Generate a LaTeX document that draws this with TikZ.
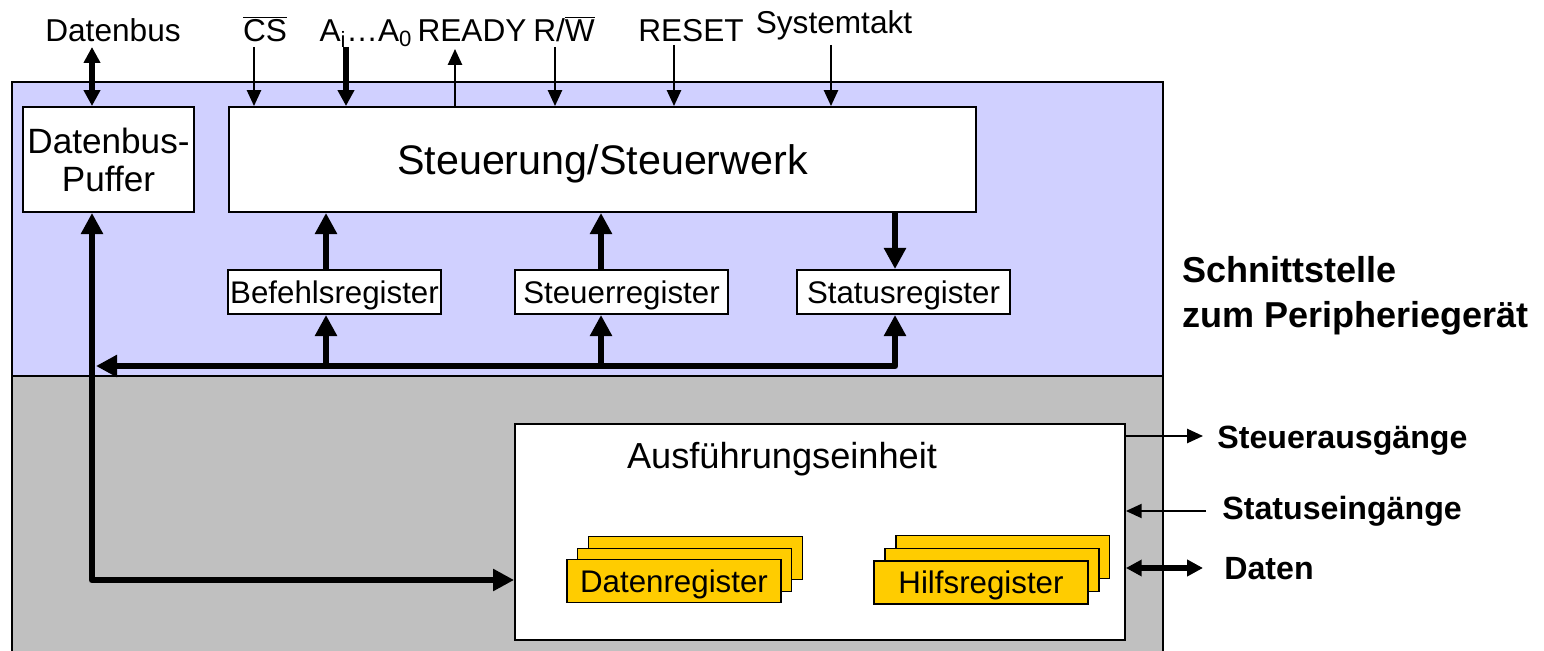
\documentclass[tikz,border=0pt]{standalone}
\usepackage{fontspec}
\setmainfont{Liberation Sans}
\usetikzlibrary{arrows.meta}
\definecolor{steuerblau}{RGB}{208,208,255}
\definecolor{ausfgrau}{RGB}{192,192,192}
\definecolor{reggelb}{RGB}{255,204,0}
\tikzset{
  box/.style={draw, fill=white, line width=1.1pt, inner sep=0pt},
  regbox/.style={box, minimum width=4.26cm, minimum height=0.88cm, text height=12.8pt, text depth=0pt, font=\fontsize{17.8}{20}\selectfont},
  stackbox/.style={box, fill=reggelb, minimum width=4.28cm, minimum height=0.86cm, text height=12.8pt, text depth=0pt, font=\fontsize{17.8}{20}\selectfont},
  sig/.style={line width=1.1pt, -{Triangle[length=9pt,width=8pt]}},
  sigboth/.style={line width=3pt, {Triangle[length=9pt,width=9pt]}-{Triangle[length=9pt,width=9pt]}},
  sigdown/.style={line width=3pt, -{Triangle[length=9pt,width=9pt]}},
  bus/.style={line width=3.8pt, line join=round, -{Triangle[length=12pt,width=12pt]}},
  busboth/.style={line width=3.8pt, line join=round, {Triangle[length=12pt,width=12pt]}-{Triangle[length=12pt,width=12pt]}},
  lbl/.style={font=\fontsize{18}{20}\selectfont, inner sep=0pt, anchor=base},
  boldlbl/.style={font=\fontsize{18.3}{20}\selectfont\bfseries, inner sep=0pt, anchor=base west},
}
\begin{document}
\begin{tikzpicture}[x=0.02cm, y=-0.02cm]
\useasboundingbox (0,0) rectangle (1544,651);
% Hintergrund
\draw[line width=1.1pt, fill=ausfgrau] (12,376) rectangle (1163,665);
\draw[line width=1.1pt, fill=steuerblau] (12,82) rectangle (1163,376);

% Steuerteil
\node[box, minimum width=3.42cm, minimum height=2.1cm, align=center, font=\fontsize{20}{21.6}\selectfont] (puffer) at (108.5,159.5) {Datenbus-\\Puffer};
\node[box, minimum width=14.94cm, minimum height=2.1cm, text height=16.9pt, text depth=0pt, font=\fontsize{23.5}{26}\selectfont] (steuer) at (602.5,159.5) {Steuerung/Steuerwerk};
\node[regbox] (befehl) at (334.5,292) {Befehlsregister};
\node[regbox] (steuerreg) at (621.5,292) {Steuerregister};
\node[regbox] (statusreg) at (903.5,292) {Statusregister};

% Ausfuehrungseinheit
\node[box, minimum width=12.2cm, minimum height=4.32cm] (ausf) at (820,532) {};
\node[font=\fontsize{20.6}{22}\selectfont, inner sep=0pt, anchor=base] (ausflbl) at (782,468) {Ausführungseinheit};
\node[stackbox] (daten3) at (695.5,558) {};
\node[stackbox] (daten2) at (684.5,570) {};
\node[stackbox] (daten1) at (674,581) {Datenregister};
\node[stackbox] (hilf3) at (1002.5,557) {};
\node[stackbox] (hilf2) at (992,570) {};
\node[stackbox] (hilf1) at (981,582.5) {Hilfsregister};

% Signale oben
\node[lbl] (ldatenbus) at (113,42) {Datenbus};
\node[lbl] (lcs) at (265,42) {$\overline{\mbox{CS}}$};
\node[lbl] (laddr) at (366,42) {A\textsubscript{i}…A\textsubscript{0}};
\node[lbl] (lready) at (472,42) {READY};
\node[lbl] (lrw) at (564,42) {R/$\overline{\mbox{W}}$};
\node[lbl] (lreset) at (691,42) {RESET};
\node[lbl] (ltakt) at (834,34) {Systemtakt};

\coordinate (tdb) at (92,47);
\coordinate (tcs) at (254,47);
\coordinate (taddr) at (346,47);
\coordinate (tready) at (455,49);
\coordinate (trw) at (555,47);
\coordinate (treset) at (674,45);
\coordinate (ttakt) at (831,45);
\draw[sigboth] (tdb) -- (tdb |- puffer.north);
\draw[sig] (tcs) -- (tcs |- steuer.north);
\draw[sigdown] (taddr) -- (taddr |- steuer.north);
\draw[sig] (tready |- steuer.north) -- (tready);
\draw[sig] (trw) -- (trw |- steuer.north);
\draw[sig] (treset) -- (treset |- steuer.north);
\draw[sig] (ttakt) -- (ttakt |- steuer.north);

% interne Busse
\coordinate (xb) at (326,0);
\coordinate (xs) at (601,0);
\coordinate (xt) at (895,0);
\coordinate (bj) at (96,366);
\coordinate (yl) at (0,580);
\draw[bus] (xb |- befehl.north) -- (xb |- steuer.south);
\draw[bus] (xs |- steuerreg.north) -- (xs |- steuer.south);
\draw[bus] (xt |- steuer.south) -- (xt |- statusreg.north);
\draw[bus] (xb |- bj) -- (xb |- befehl.south);
\draw[bus] (xs |- bj) -- (xs |- steuerreg.south);
\draw[busboth] (bj) -| (xt |- statusreg.south);
\draw[busboth] (92,0 |- puffer.south) |- (yl -| ausf.west);

% Schnittstelle
\node[font=\fontsize{20.5}{24}\selectfont\bfseries, inner sep=0pt, anchor=base west] (lschnitt) at (1182,283) {Schnittstelle};
\node[font=\fontsize{20.5}{24}\selectfont\bfseries, inner sep=0pt, anchor=base west] (lperi) at (1182,328) {zum Peripheriegerät};
\coordinate (osa) at (1203,436);
\coordinate (ose) at (1206,511);
\coordinate (oda) at (1203,568);
\draw[sig] (osa -| ausf.east) -- (osa);
\draw[sig] (ose) -- (ose -| ausf.east);
\draw[sigboth] (oda -| ausf.east) -- (oda);
\node[boldlbl] (lsa) at (1217,448) {Steuerausgänge};
\node[boldlbl] (lse) at (1222,519) {Statuseingänge};
\node[boldlbl] (lda) at (1224,579) {Daten};
\end{tikzpicture}
\end{document}
